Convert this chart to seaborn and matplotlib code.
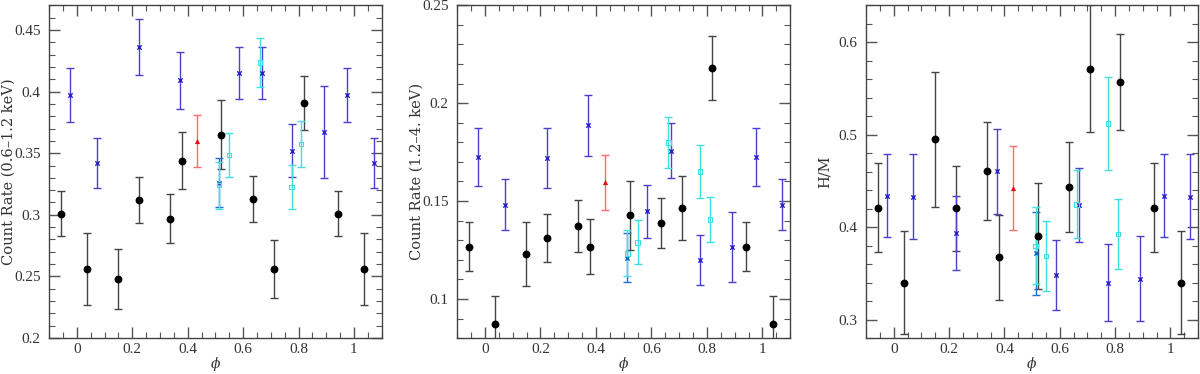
import numpy as np
import pandas as pd
import matplotlib
matplotlib.use("Agg")
import matplotlib.pyplot as plt
import seaborn as sns
from matplotlib.ticker import MultipleLocator

# phases of each data group
phase_black = [-0.058, 0.037, 0.149, 0.224, 0.336, 0.379, 0.522, 0.634, 0.710, 0.819, 0.942, 1.037]
phase_blue = [-0.024, 0.071, 0.224, 0.372, 0.585, 0.669, 0.775, 0.891, 0.976, 1.071]
phase_lblue = [0.513]
phase_cyan = [0.513, 0.550, 0.661, 0.775, 0.810]
phase_red = [0.432]

# soft band (0.6-1.2 keV)
soft_black = [0.301, 0.256, 0.248, 0.312, 0.297, 0.344, 0.365, 0.313, 0.256, 0.391, 0.301, 0.256]
soft_black_err = [0.0184, 0.0289, 0.0244, 0.0186, 0.0199, 0.0233, 0.0279, 0.0187, 0.0238, 0.0219, 0.0184, 0.0289]
soft_blue = [0.397, 0.342, 0.436, 0.409, 0.415, 0.415, 0.352, 0.367, 0.397, 0.342]
soft_blue_err = [0.022, 0.0204, 0.0229, 0.0228, 0.0214, 0.021, 0.0214, 0.0375, 0.022, 0.0204]
soft_lblue = [0.326]
soft_lblue_err = [0.020]
soft_cyan = [0.324, 0.3485, 0.4235, 0.3228, 0.3575]
soft_cyan_err = [0.019, 0.018, 0.020, 0.018, 0.0186]
soft_red = [0.360]
soft_red_err = [0.0213]

# hard band (1.2-4 keV)
hard_black = [0.1267, 0.0872, 0.123, 0.1311, 0.1371, 0.1267, 0.1427, 0.1388, 0.1464, 0.218, 0.1267, 0.0872]
hard_black_err = [0.0124, 0.0143, 0.0162, 0.0121, 0.0132, 0.0139, 0.0177, 0.0127, 0.0164, 0.0164, 0.0124, 0.0143]
hard_blue = [0.1723, 0.1481, 0.1721, 0.1886, 0.1447, 0.1757, 0.1197, 0.1264, 0.1723, 0.1481]
hard_blue_err = [0.0148, 0.013, 0.0152, 0.0156, 0.0134, 0.014, 0.0127, 0.0179, 0.0148, 0.013]
hard_lblue = [0.1211]
hard_lblue_err = [0.0125]
hard_cyan = [0.1233, 0.1289, 0.1798, 0.1651, 0.1405]
hard_cyan_err = [0.0118, 0.0112, 0.013, 0.0135, 0.0116]
hard_red = [0.1595]
hard_red_err = [0.0139]

# hardness ratio H/M
hr_black = [0.4211, 0.3398, 0.4948, 0.4203, 0.4608, 0.3676, 0.3904, 0.4435, 0.5714, 0.557, 0.4211, 0.3398]
hr_black_err = [0.0483, 0.0557, 0.0726, 0.046, 0.0526, 0.046, 0.057, 0.0488, 0.0687, 0.0519, 0.0483, 0.0557]
hr_blue = [0.4341, 0.433, 0.394, 0.4605, 0.3481, 0.424, 0.3398, 0.3441, 0.4341, 0.433]
hr_blue_err = [0.0445, 0.0459, 0.0401, 0.0461, 0.0375, 0.0398, 0.0416, 0.0459, 0.0445, 0.0459]
hr_lblue = [0.3716]
hr_lblue_err = [0.0449]
hr_cyan = [0.3799, 0.369, 0.4247, 0.5121, 0.3925]
hr_cyan_err = [0.0416, 0.0376, 0.0369, 0.0503, 0.0382]
hr_red = [0.4428]
hr_red_err = [0.0454]

sns.set_style("ticks")
plt.rcParams["font.family"] = ["Liberation Serif", "DejaVu Serif"]
plt.rcParams["mathtext.fontset"] = "dejavuserif"
txt = "#333333"

# group style: (color for bars, marker, marker size, marker colour)
styles = {
    "black": ("#444444", "o", 32, "black"),
    "blue": ("#4a40d0", "x", 10, "#2a20c8"),
    "lblue": ("#1e70d8", "x", 10, "#1e5fd0"),
    "cyan": ("#40e0e0", "s", 10, "#40e0e0"),
    "red": ("#ff6a6a", "^", 14, "#e01010"),
}
phases = {"black": phase_black, "blue": phase_blue, "lblue": phase_lblue,
          "cyan": phase_cyan, "red": phase_red}

panels = [
    {"vals": {"black": (soft_black, soft_black_err), "blue": (soft_blue, soft_blue_err),
              "lblue": (soft_lblue, soft_lblue_err), "cyan": (soft_cyan, soft_cyan_err),
              "red": (soft_red, soft_red_err)},
     "ylim": (0.2, 0.47), "major": 0.05, "minor": 0.01,
     "ylabel": "Count Rate (0.6\u20131.2 keV)", "pos": [0.041, 0.096, 0.277, 0.89]},
    {"vals": {"black": (hard_black, hard_black_err), "blue": (hard_blue, hard_blue_err),
              "lblue": (hard_lblue, hard_lblue_err), "cyan": (hard_cyan, hard_cyan_err),
              "red": (hard_red, hard_red_err)},
     "ylim": (0.08, 0.25), "major": 0.05, "minor": 0.01,
     "ylabel": "Count Rate (1.2\u20134. keV)", "pos": [0.381, 0.096, 0.2775, 0.89]},
    {"vals": {"black": (hr_black, hr_black_err), "blue": (hr_blue, hr_blue_err),
              "lblue": (hr_lblue, hr_lblue_err), "cyan": (hr_cyan, hr_cyan_err),
              "red": (hr_red, hr_red_err)},
     "ylim": (0.28, 0.64), "major": 0.1, "minor": 0.02,
     "ylabel": "H/M", "pos": [0.7217, 0.096, 0.2767, 0.89]},
]

fig = plt.figure(figsize=(12, 3.74), dpi=100)

for p in panels:
    ax = fig.add_axes(p["pos"])
    for grp in ["black", "blue", "lblue", "cyan", "red"]:
        y, e = p["vals"][grp]
        ecol, mk, ms, mcol = styles[grp]
        ax.errorbar(phases[grp], y, yerr=e, fmt="none", ecolor=ecol,
                    elinewidth=1.0, capsize=3, capthick=1.0, zorder=2)
        df = pd.DataFrame({"phase": phases[grp], "val": y})
        if mk == "x":
            sns.scatterplot(data=df, x="phase", y="val", ax=ax, marker="x",
                            color=mcol, s=ms, linewidth=1.0, zorder=3)
        elif mk == "s":
            sns.scatterplot(data=df, x="phase", y="val", ax=ax, marker="s",
                            facecolor="none", edgecolor=mcol, s=ms, linewidth=0.8, zorder=3)
        else:
            sns.scatterplot(data=df, x="phase", y="val", ax=ax, marker=mk,
                            color=mcol, s=ms, edgecolor=mcol, linewidth=0, zorder=3)
    ax.set_xlim(-0.1, 1.1)
    ax.set_ylim(*p["ylim"])
    ax.xaxis.set_major_locator(MultipleLocator(0.2))
    ax.xaxis.set_minor_locator(MultipleLocator(0.05))
    ax.yaxis.set_major_locator(MultipleLocator(p["major"]))
    ax.yaxis.set_minor_locator(MultipleLocator(p["minor"]))
    ax.xaxis.set_major_formatter(plt.FuncFormatter(lambda v, _: f"{v:g}"))
    ax.yaxis.set_major_formatter(plt.FuncFormatter(lambda v, _: f"{v:g}"))
    ax.tick_params(which="both", direction="in", top=True, right=True,
                   colors="#555555", labelcolor=txt, labelsize=11)
    ax.tick_params(which="major", length=8, width=1)
    ax.tick_params(which="minor", length=4, width=0.8)
    ax.tick_params(axis="y", which="major", pad=6)
    for s in ax.spines.values():
        s.set_color("#444444")
        s.set_linewidth(1.0)
    ax.set_xlabel(r"$\phi$", color=txt, fontsize=10)
    ax.xaxis.set_label_coords(0.5, -0.052)
    ax.set_ylabel(p["ylabel"], color=txt, fontsize=10.5, va="center",
                  family="DejaVu Serif")
    ax.yaxis.set_label_coords(-0.123, 0.5)

fig.savefig("out.png", dpi=100)
